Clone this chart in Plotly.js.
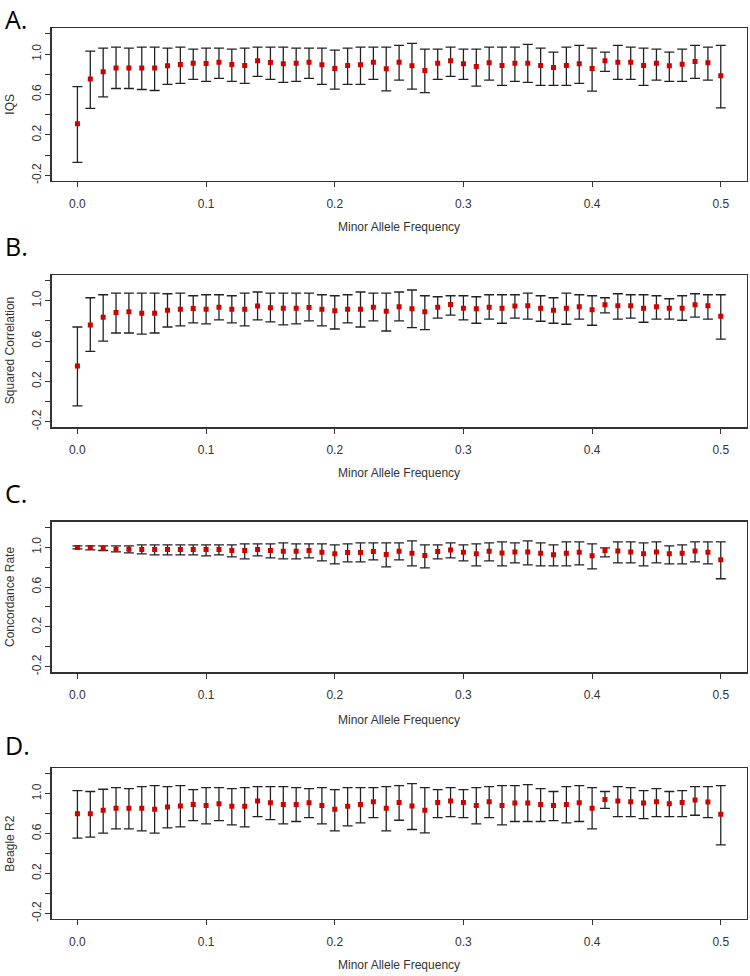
<!DOCTYPE html>
<html>
<head>
<meta charset="utf-8">
<script src="https://cdn.plot.ly/plotly-3.0.1.min.js"></script>
<style>html,body{margin:0;padding:0;background:#fff;}#chart{width:750px;height:976px;}</style>
</head>
<body>
<div id="chart"></div>
<script>
// Minor allele frequency bins
const maf = [0.00,0.01,0.02,0.03,0.04,0.05,0.06,0.07,0.08,0.09,0.10,0.11,0.12,0.13,0.14,0.15,0.16,0.17,0.18,0.19,0.20,0.21,0.22,0.23,0.24,0.25,0.26,0.27,0.28,0.29,0.30,0.31,0.32,0.33,0.34,0.35,0.36,0.37,0.38,0.39,0.40,0.41,0.42,0.43,0.44,0.45,0.46,0.47,0.48,0.49,0.50];

// A. IQS
const iqsMean  = [0.31,0.755,0.825,0.864,0.864,0.864,0.864,0.884,0.897,0.91,0.907,0.92,0.897,0.888,0.934,0.917,0.904,0.91,0.92,0.894,0.858,0.888,0.894,0.92,0.856,0.92,0.884,0.838,0.91,0.934,0.904,0.878,0.914,0.888,0.91,0.91,0.888,0.868,0.888,0.904,0.858,0.934,0.92,0.92,0.888,0.91,0.884,0.90,0.927,0.914,0.785];
const iqsUpper = [0.679,1.03,1.06,1.07,1.06,1.07,1.07,1.06,1.07,1.05,1.06,1.06,1.05,1.06,1.07,1.07,1.07,1.06,1.06,1.06,1.04,1.06,1.07,1.07,1.07,1.086,1.106,1.05,1.05,1.07,1.05,1.05,1.07,1.07,1.07,1.096,1.06,1.02,1.07,1.086,1.06,1.02,1.086,1.07,1.06,1.05,1.02,1.05,1.086,1.07,1.086];
const iqsLower = [-0.071,0.464,0.577,0.66,0.66,0.65,0.64,0.70,0.71,0.75,0.73,0.76,0.73,0.71,0.78,0.75,0.72,0.73,0.76,0.70,0.653,0.70,0.70,0.75,0.636,0.742,0.653,0.62,0.75,0.78,0.75,0.683,0.742,0.69,0.73,0.72,0.69,0.69,0.69,0.71,0.633,0.83,0.75,0.75,0.69,0.742,0.73,0.73,0.76,0.742,0.468];

// B. Squared Correlation
const r2Mean  = [0.353,0.76,0.837,0.883,0.89,0.877,0.877,0.907,0.917,0.923,0.917,0.937,0.917,0.917,0.947,0.93,0.927,0.927,0.933,0.917,0.90,0.917,0.917,0.937,0.897,0.94,0.92,0.89,0.937,0.963,0.927,0.92,0.937,0.927,0.947,0.95,0.927,0.907,0.927,0.94,0.91,0.96,0.95,0.95,0.927,0.94,0.927,0.927,0.96,0.95,0.847];
const r2Upper = [0.74,1.03,1.06,1.077,1.077,1.077,1.077,1.07,1.077,1.05,1.06,1.06,1.05,1.077,1.087,1.077,1.077,1.077,1.077,1.06,1.05,1.06,1.087,1.077,1.077,1.087,1.107,1.05,1.04,1.05,1.05,1.04,1.06,1.06,1.06,1.077,1.05,1.03,1.077,1.06,1.05,1.03,1.07,1.06,1.06,1.05,1.02,1.05,1.07,1.06,1.06];
const r2Lower = [-0.043,0.497,0.60,0.68,0.68,0.67,0.68,0.74,0.75,0.78,0.77,0.81,0.78,0.75,0.81,0.79,0.76,0.77,0.80,0.75,0.72,0.78,0.74,0.80,0.70,0.80,0.733,0.713,0.827,0.857,0.81,0.777,0.817,0.777,0.827,0.817,0.797,0.777,0.767,0.817,0.757,0.88,0.817,0.827,0.787,0.817,0.817,0.807,0.837,0.817,0.62];

// C. Concordance Rate
const crMean  = [0.997,0.997,0.99,0.98,0.98,0.977,0.977,0.977,0.977,0.977,0.977,0.977,0.967,0.967,0.977,0.967,0.96,0.96,0.967,0.95,0.933,0.947,0.947,0.957,0.927,0.96,0.94,0.917,0.957,0.973,0.95,0.933,0.96,0.943,0.953,0.953,0.94,0.923,0.94,0.95,0.913,0.967,0.963,0.953,0.933,0.953,0.933,0.94,0.963,0.95,0.873];
const crUpper = [1.013,1.013,1.013,1.013,1.013,1.023,1.023,1.023,1.023,1.023,1.023,1.023,1.023,1.033,1.033,1.033,1.043,1.033,1.033,1.033,1.023,1.033,1.043,1.043,1.043,1.043,1.063,1.023,1.023,1.043,1.023,1.033,1.043,1.053,1.043,1.063,1.043,1.023,1.053,1.053,1.033,0.993,1.053,1.053,1.043,1.053,1.013,1.023,1.053,1.053,1.053];
const crLower = [0.983,0.973,0.967,0.953,0.943,0.933,0.923,0.923,0.923,0.923,0.913,0.923,0.903,0.883,0.913,0.893,0.883,0.883,0.893,0.863,0.833,0.853,0.853,0.873,0.803,0.873,0.813,0.793,0.883,0.893,0.863,0.813,0.863,0.813,0.843,0.823,0.813,0.813,0.813,0.823,0.783,0.903,0.843,0.843,0.813,0.843,0.833,0.833,0.853,0.833,0.683];

// D. Beagle R2
const bgMean  = [0.80,0.80,0.834,0.854,0.854,0.854,0.844,0.868,0.877,0.894,0.884,0.90,0.874,0.874,0.927,0.91,0.894,0.894,0.91,0.884,0.844,0.874,0.894,0.92,0.854,0.914,0.877,0.834,0.914,0.927,0.914,0.884,0.92,0.884,0.907,0.907,0.894,0.884,0.894,0.91,0.854,0.944,0.927,0.92,0.907,0.92,0.90,0.914,0.937,0.917,0.795];
const bgUpper = [1.033,1.023,1.046,1.063,1.053,1.073,1.083,1.073,1.083,1.043,1.063,1.063,1.053,1.063,1.073,1.073,1.073,1.063,1.053,1.063,1.043,1.063,1.063,1.063,1.073,1.083,1.103,1.063,1.043,1.063,1.043,1.063,1.073,1.083,1.083,1.093,1.053,1.023,1.073,1.083,1.063,1.023,1.073,1.063,1.033,1.053,1.023,1.033,1.073,1.073,1.083];
const bgLower = [0.556,0.566,0.606,0.649,0.649,0.629,0.606,0.659,0.669,0.732,0.699,0.732,0.689,0.669,0.772,0.742,0.699,0.722,0.762,0.699,0.629,0.679,0.709,0.762,0.629,0.735,0.642,0.609,0.762,0.772,0.762,0.699,0.762,0.689,0.722,0.722,0.722,0.732,0.709,0.722,0.649,0.854,0.772,0.772,0.752,0.772,0.772,0.772,0.785,0.762,0.487];

const panelLetters = ["A.","B.","C.","D."];
const yTitles = ["IQS","Squared Correlation","Concordance Rate","Beagle R2"];
const xTitle = "Minor Allele Frequency";
const xTickVals = [0,0.1,0.2,0.3,0.4,0.5];
const xTickText = ["0.0","0.1","0.2","0.3","0.4","0.5"];
const yTickVals = [-0.2,0,0.2,0.4,0.6,0.8,1.0,1.2];
const yTickText = ["-0.2","","0.2","","0.6","","1.0",""];

const series = [
  [iqsMean, iqsUpper, iqsLower],
  [r2Mean, r2Upper, r2Lower],
  [crMean, crUpper, crLower],
  [bgMean, bgUpper, bgLower]
];

const W = 750, H = 976;
// panel boxes in pixels (top, bottom)
const boxes = [[28.3,181],[275,427.3],[521.7,672.3],[768.3,919]];
const xLeft = 51.7, xRight = 746.5;
const letterTop = [0, 227, 474, 726];
const xTitleY = [227, 473, 720, 965];

const font = "Liberation Sans, Arial, sans-serif";
const data = [];
const layout = {
  width: W, height: H,
  margin: {l:0, r:0, t:0, b:0},
  paper_bgcolor: "#fff", plot_bgcolor: "#fff",
  showlegend: false,
  font: {family: font, size: 12, color: "#333"},
  annotations: []
};

series.forEach((s, i) => {
  const [m, up, lo] = s;
  const n = i === 0 ? "" : String(i + 1);
  data.push({
    type: "scatter", mode: "markers",
    x: maf, y: m,
    xaxis: "x" + n, yaxis: "y" + n,
    marker: {symbol: "square", size: 5, color: "#d00000", line: {width: 0}},
    error_y: {
      type: "data", symmetric: false,
      array: up.map((v, k) => v - m[k]),
      arrayminus: lo.map((v, k) => m[k] - v),
      color: "#222", thickness: 1.3, width: 5
    },
    hoverinfo: "x+y"
  });
  const [top, bot] = boxes[i];
  layout["xaxis" + n] = {
    domain: [xLeft / W, xRight / W],
    anchor: "y" + n,
    range: [-0.02, 0.52],
    tickmode: "array", tickvals: xTickVals, ticktext: xTickText,
    ticks: "outside", ticklen: 5, tickwidth: 1, tickcolor: "#333",
    showline: true, linecolor: "#333", linewidth: 1.3, mirror: true,
    showgrid: false, zeroline: false,
    ticklabelstandoff: 6,
    tickfont: {family: font, size: 12, color: "#333"}
  };
  layout["yaxis" + n] = {
    domain: [1 - bot / H, 1 - top / H],
    anchor: "x" + n,
    range: [-0.256, 1.256],
    tickmode: "array", tickvals: yTickVals, ticktext: yTickText,
    ticks: "outside", ticklen: 5, tickwidth: 1, tickcolor: "#333",
    tickangle: -90,
    showline: true, linecolor: "#333", linewidth: 1.3, mirror: true,
    showgrid: false, zeroline: false,
    tickfont: {family: font, size: 12, color: "#333"}
  };
  layout.annotations.push({
    text: panelLetters[i], xref: "paper", yref: "paper",
    x: 3 / W, y: 1 - letterTop[i] / H, xanchor: "left", yanchor: "top",
    showarrow: false, font: {family: "Open Sans, Liberation Sans, sans-serif", size: 25, color: "#000"}
  });
  layout.annotations.push({
    text: xTitle, xref: "paper", yref: "paper",
    x: (xLeft + xRight) / 2 / W, y: 1 - xTitleY[i] / H, xanchor: "center", yanchor: "middle",
    showarrow: false, font: {family: font, size: 12, color: "#333"}
  });
  layout.annotations.push({
    text: yTitles[i], xref: "paper", yref: "paper", textangle: -90,
    x: 10 / W, y: 1 - (top + bot) / 2 / H, xanchor: "center", yanchor: "middle",
    showarrow: false, font: {family: font, size: 12, color: "#333"}
  });
});

Plotly.newPlot("chart", data, layout, {staticPlot: true});
</script>
</body>
</html>
